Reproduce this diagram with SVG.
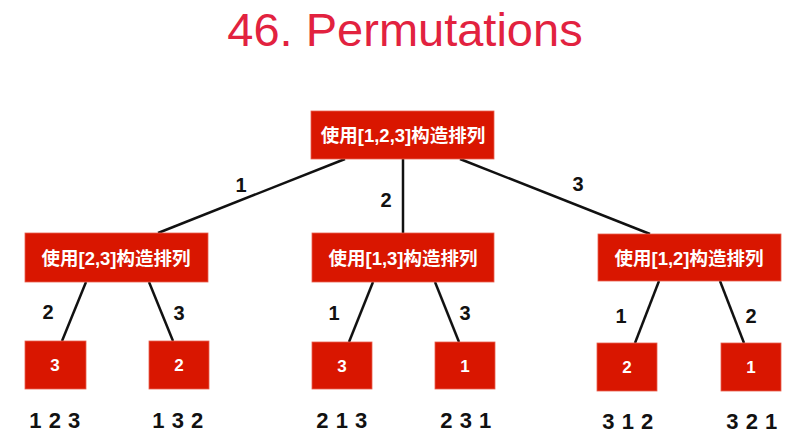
<svg xmlns="http://www.w3.org/2000/svg" width="793" height="441" viewBox="0 0 793 441">
<style>
.box{fill:#d91600;stroke:#e8604f;stroke-width:0.8}
.bt{font-family:"Liberation Sans","Noto Sans CJK SC",sans-serif;font-size:18.5px;font-weight:bold;fill:#fff;text-anchor:middle;dominant-baseline:central}
.lt{font-family:"Liberation Sans",sans-serif;font-size:17px;font-weight:bold;fill:#fff;text-anchor:middle;dominant-baseline:central}
.el{font-family:"Liberation Sans",sans-serif;font-size:20px;font-weight:bold;fill:#111;text-anchor:middle;dominant-baseline:central}
.res{font-family:"Liberation Sans",sans-serif;font-size:22px;font-weight:bold;fill:#111;text-anchor:middle;dominant-baseline:central;letter-spacing:0.5px}
.edge{stroke:#111;stroke-width:2.5;fill:none}
</style>
<rect width="793" height="441" fill="#fff"/>
<text x="405" y="46" font-family="Liberation Sans,sans-serif" font-size="47" fill="#e2223f" text-anchor="middle">46. Permutations</text>
<g id="connectors">
<line class="edge" x1="345" y1="159" x2="158" y2="233"/>
<line class="edge" x1="403" y1="159" x2="403" y2="233"/>
<line class="edge" x1="460" y1="159" x2="650" y2="234"/>
<line class="edge" x1="86" y1="282" x2="62" y2="341"/>
<line class="edge" x1="149" y1="282" x2="173" y2="341"/>
<line class="edge" x1="373" y1="282" x2="349" y2="342"/>
<line class="edge" x1="435" y1="282" x2="459" y2="342"/>
<line class="edge" x1="659" y1="281" x2="635" y2="343"/>
<line class="edge" x1="720" y1="281" x2="744" y2="343"/>
<text class="el" x="241" y="185">1</text>
<text class="el" x="386" y="200">2</text>
<text class="el" x="578" y="184">3</text>
<text class="el" x="48" y="312">2</text>
<text class="el" x="179" y="313">3</text>
<text class="el" x="334" y="313">1</text>
<text class="el" x="465" y="313">3</text>
<text class="el" x="621" y="316">1</text>
<text class="el" x="751" y="316">2</text>
</g>
<g id="root"><rect class="box" x="311" y="111" width="183" height="48"/><text class="bt" x="403" y="135">使用[1,2,3]构造排列</text></g>
<g id="n23"><rect class="box" x="25" y="233" width="183" height="49"/><text class="bt" x="116" y="258">使用[2,3]构造排列</text></g>
<g id="n13"><rect class="box" x="312" y="233" width="182" height="49"/><text class="bt" x="403" y="258">使用[1,3]构造排列</text></g>
<g id="n12"><rect class="box" x="598" y="234" width="183" height="47"/><text class="bt" x="689" y="258">使用[1,2]构造排列</text></g>
<g id="l1"><rect class="box" x="25" y="341" width="61" height="48"/><text class="lt" x="55" y="365">3</text></g>
<g id="l2"><rect class="box" x="149" y="341" width="60" height="48"/><text class="lt" x="179" y="365">2</text></g>
<g id="l3"><rect class="box" x="312" y="342" width="60" height="47"/><text class="lt" x="342" y="366">3</text></g>
<g id="l4"><rect class="box" x="435" y="342" width="60" height="47"/><text class="lt" x="465" y="366">1</text></g>
<g id="l5"><rect class="box" x="597" y="343" width="60" height="48"/><text class="lt" x="627" y="367">2</text></g>
<g id="l6"><rect class="box" x="721" y="343" width="60" height="48"/><text class="lt" x="751" y="367">1</text></g>
<g id="results">
<text class="res" x="55" y="420">1 2 3</text>
<text class="res" x="178" y="420">1 3 2</text>
<text class="res" x="342" y="420">2 1 3</text>
<text class="res" x="466" y="420">2 3 1</text>
<text class="res" x="628" y="421">3 1 2</text>
<text class="res" x="752" y="421">3 2 1</text>
</g>
</svg>
